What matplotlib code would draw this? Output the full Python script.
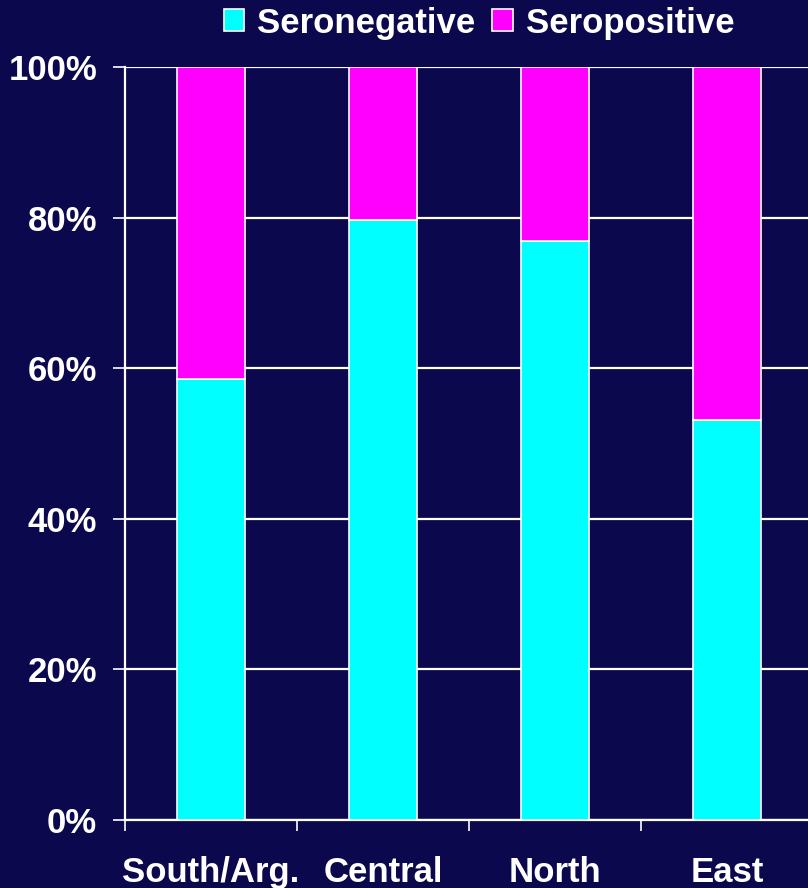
import numpy as np
import matplotlib.pyplot as plt

# share of samples per region, in percent
regions = ['South/Arg.', 'Central', 'North', 'East']
seronegative = [58.5, 79.7, 76.9, 53.1]
seropositive = [41.5, 20.3, 23.1, 46.9]

bg = '#0b084d'
plt.rcParams['font.family'] = ['Liberation Sans', 'DejaVu Sans']
plt.rcParams['font.weight'] = 'bold'
fs = 25

fig = plt.figure(figsize=(8.08, 8.88), dpi=100, facecolor=bg)
# axes runs slightly past the right edge of the canvas
ax = fig.add_axes([125/808, 68/888, 688/808, 753/888], facecolor=bg)

x = np.arange(len(regions))
ax.bar(x, seronegative, width=0.4, color='#00ffff', edgecolor='white',
       linewidth=1.2, label='Seronegative', zorder=3)
ax.bar(x, seropositive, width=0.4, bottom=seronegative, color='#ff00ff',
       edgecolor='white', linewidth=1.2, label='Seropositive', zorder=3)

ax.set_xlim(-0.5, 3.5)
ax.set_ylim(0, 100)

# y axis: percent ticks with white grid
ax.set_yticks(range(0, 101, 20))
ax.set_yticklabels(['%d%%' % v for v in range(0, 101, 20)])
ax.yaxis.grid(True, color='white', linewidth=1.6)
ax.set_axisbelow(True)
ax.tick_params(axis='y', colors='white', labelsize=fs, length=9,
               width=1.2, pad=11)

# x axis: tick marks between groups, labels under the bars
ax.set_xticks(np.arange(-0.5, 3.6, 1.0))
ax.set_xticklabels([])
ax.set_xticks(x, minor=True)
ax.set_xticklabels(regions, minor=True)
ax.tick_params(axis='x', which='major', colors='white', length=8,
               width=1.2)
ax.tick_params(axis='x', which='minor', colors='white', length=0,
               labelsize=fs, pad=26)

for side in ['top', 'right']:
    ax.spines[side].set_visible(False)
for side in ['left', 'bottom']:
    ax.spines[side].set_color('white')
    ax.spines[side].set_linewidth(1.6)

leg = fig.legend(loc='center', bbox_to_anchor=(479/808, 1 - 23/888),
                 ncol=2, frameon=False, fontsize=fs,
                 handlelength=0.6, handleheight=0.6,
                 handletextpad=0.36, columnspacing=0.5, borderpad=0)
for t in leg.get_texts():
    t.set_color('white')

fig.savefig('out.png', dpi=100, facecolor=bg)
